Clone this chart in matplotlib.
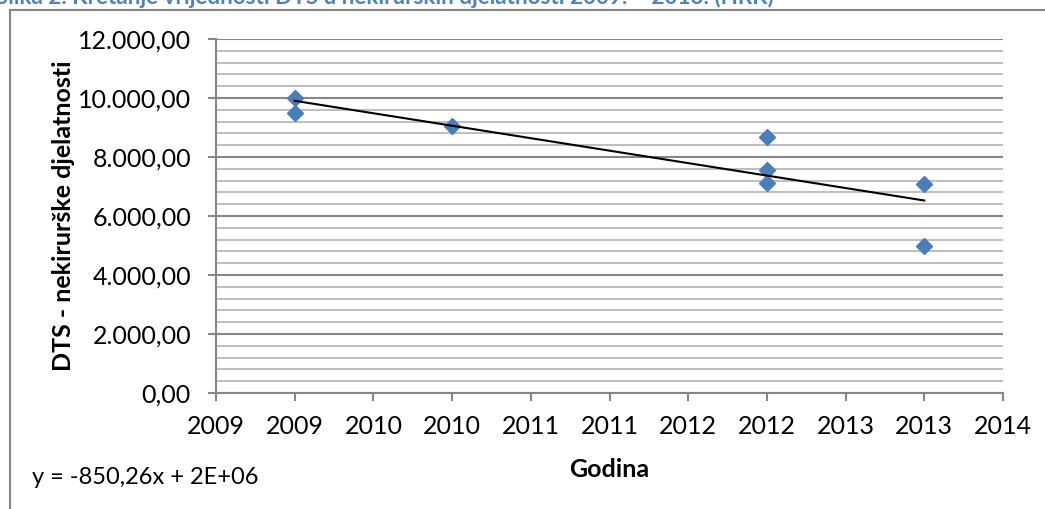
import numpy as np
import matplotlib
matplotlib.use("Agg")
import matplotlib.pyplot as plt
from matplotlib.ticker import FuncFormatter, MultipleLocator

# ---- data ----
years = [2009, 2009, 2010, 2012, 2012, 2012, 2013, 2013]
dts_values = [10000, 9500, 9050, 8690, 7560, 7130, 7100, 5000]
title_text = "Slika 2. Kretanje vrijednosti DTS u nekirurških djelatnosti 2009. – 2013. (HRK)"
equation_text = "y = -850,26x + 2E+06"
x_label = "Godina"
y_label = "DTS - nekirurške djelatnosti"

plt.rcParams['font.family'] = ['Lato', 'DejaVu Sans']

W, H = 1045, 509
fig = plt.figure(figsize=(W / 100, H / 100), dpi=100)

# chart area border (left and top only visible)
fig.add_artist(plt.Line2D([10 / W, 10 / W], [0, 1 - 10 / H], transform=fig.transFigure,
                          color='#868686', lw=1.5))
fig.add_artist(plt.Line2D([10 / W, 1], [1 - 10 / H, 1 - 10 / H], transform=fig.transFigure,
                          color='#868686', lw=1.5))

# partially clipped title
fig.text(-4 / W, 1 + 3 / H, title_text, color='#4F81BD', fontsize=16.2, fontweight='bold',
         ha='left', va='center')

left, right, top, bottom = 216, 1003, 39, 393
ax = fig.add_axes([left / W, 1 - bottom / H, (right - left) / W, (bottom - top) / H])

ax.set_xlim(2008.5, 2013.5)
ax.set_ylim(0, 12000)

ax.yaxis.set_major_locator(MultipleLocator(2000))
ax.yaxis.set_minor_locator(MultipleLocator(400))
ax.xaxis.set_major_locator(MultipleLocator(0.5))


def yfmt(v, pos):
    s = f"{v:,.2f}"
    return s.replace(",", "X").replace(".", ",").replace("X", ".")


def xfmt(v, pos):
    return str(int(np.floor(v + 0.5)))


ax.yaxis.set_major_formatter(FuncFormatter(yfmt))
ax.xaxis.set_major_formatter(FuncFormatter(xfmt))

ax.grid(True, which='major', axis='y', color='#868686', lw=1.5, zorder=0)
ax.grid(True, which='minor', axis='y', color='#BFBFBF', lw=1.5, zorder=0)
ax.set_axisbelow(True)

for s in ['top', 'right']:
    ax.spines[s].set_visible(False)
for s in ['left', 'bottom']:
    ax.spines[s].set_color('#868686')
    ax.spines[s].set_linewidth(1.5)

ax.tick_params(axis='both', which='major', direction='out', length=6, width=1.5,
               color='#868686', labelsize=18, labelcolor='black')
ax.tick_params(axis='y', which='minor', length=0)
ax.tick_params(axis='x', pad=10)
ax.tick_params(axis='y', pad=12)

# scatter points
ax.plot(years, dts_values, linestyle='none', marker='D', markersize=8,
        color='#4A7EBB', markeredgecolor='#4A7EBB', zorder=3, clip_on=False)

# linear trendline
coef = np.polyfit(years, dts_values, 1)
xs = np.array([min(years), max(years)])
ax.plot(xs, np.polyval(coef, xs), color='black', lw=1.5, zorder=4)

ax.set_xlabel(x_label, fontsize=18, fontweight='bold', labelpad=14)
ax.set_ylabel(y_label, fontsize=18, fontweight='bold', labelpad=2)

fig.text(32 / W, 1 - 478 / H, equation_text, fontsize=17, ha='left', va='center')

fig.savefig("out.png", dpi=100)
